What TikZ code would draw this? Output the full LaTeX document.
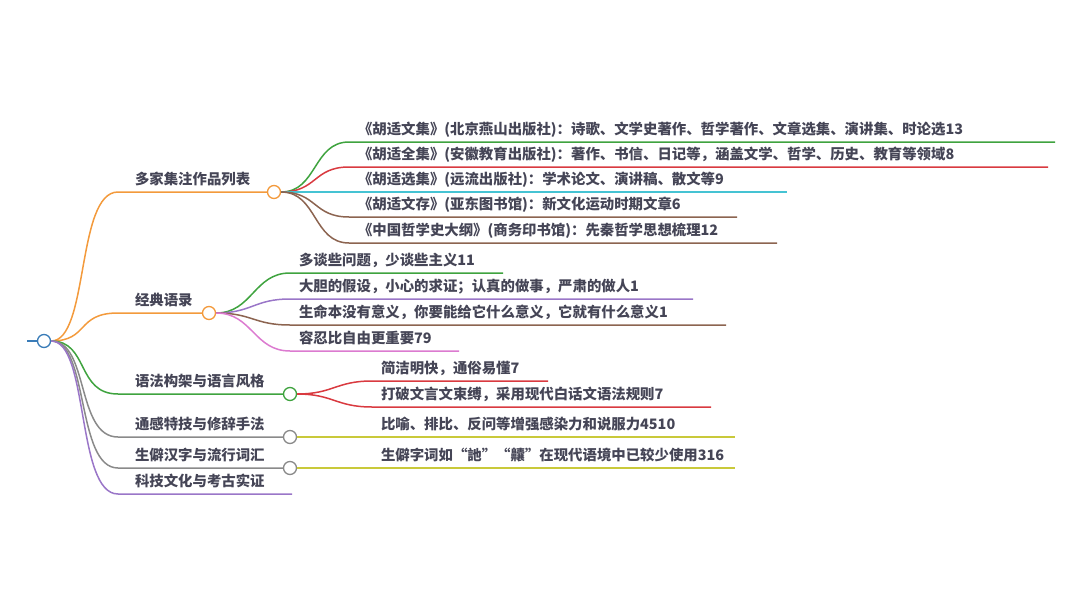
\documentclass[tikz,border=0pt]{standalone}
\usepackage{fontspec}
\setmainfont{Noto Sans CJK SC}
\usetikzlibrary{positioning}
\definecolor{mapblue}{HTML}{3A7CB8}
\definecolor{maporange}{HTML}{F39A3C}
\definecolor{mapgreen}{HTML}{3FA33F}
\definecolor{mapred}{HTML}{D93A40}
\definecolor{mapcyan}{HTML}{45C3D3}
\definecolor{mapbrown}{HTML}{8C6450}
\definecolor{mappurple}{HTML}{9A76C8}
\definecolor{mappink}{HTML}{DC7BD0}
\definecolor{mapgray}{HTML}{8A8A8A}
\definecolor{mapolive}{HTML}{C9C93A}
\definecolor{maptext}{HTML}{454556}

\begin{document}
\begin{tikzpicture}[
    x=1pt, y=-1pt,
    topic/.style={anchor=south west, font=\fontsize{14.4}{16}\selectfont\bfseries,
        text=maptext, inner xsep=17pt, inner ysep=5pt, text depth=2.5pt, outer sep=0pt},
    leaf/.style={topic, inner xsep=9pt},
    knot/.style={circle, draw=#1, fill=white, line width=1.3pt, minimum size=13pt,
        inner sep=0pt},
    twig/.style={draw=#1, line width=1.5pt}
]
    \useasboundingbox (0,0) rectangle (1080,616);

    % root
    \node[knot=mapblue] (hu) at (44,341) {};
    \coordinate (stub) at (27,341);
    \draw[twig=mapblue] (stub) -- (hu);

    % first level: labels, knots
    \node[topic] (l1) at (118,192) {多家集注作品列表};
    \node[topic] (l2) at (118,313) {经典语录};
    \node[topic] (l3) at (118,394) {语法构架与语言风格};
    \node[topic] (l4) at (118,437) {通感特技与修辞手法};
    \node[topic] (l5) at (118,468) {生僻汉字与流行词汇};
    \node[topic] (l6) at (118,494) {科技文化与考古实证};
    \node[knot=maporange] (c1) at (274,192) {};
    \node[knot=maporange] (c2) at (209,313) {};
    \node[knot=mapgreen] (c3) at (290,394) {};
    \node[knot=mapgray] (c4) at (290,437) {};
    \node[knot=mapgray] (c5) at (290,468) {};
    \coordinate (c6) at (292,494);

    \foreach \n/\m/\col in {l1/c1/maporange, l2/c2/maporange, l3/c3/mapgreen,
                            l4/c4/mapgray, l5/c5/mapgray, l6/c6/mappurple}
        \draw[twig=\col] (hu.east) .. controls +(38,0) and +(-42,0) .. (\n.south west) -- (\m);

    % editions
    \foreach \n/\y/\e/\col/\txt in {
        a1/142/1055/mapgreen/{《胡适文集》(北京燕山出版社)：诗歌、文学史著作、哲学著作、文章选集、演讲集、时论选13},
        a2/167/1048/mapred/{《胡适全集》(安徽教育出版社)：著作、书信、日记等，涵盖文学、哲学、历史、教育等领域8},
        a3/192/787/mapcyan/{《胡适选集》(远流出版社)：学术论文、演讲稿、散文等9},
        a4/217/737/mapbrown/{《胡适文存》(亚东图书馆)：新文化运动时期文章6},
        a5/243/777/mapbrown/{《中国哲学史大纲》(商务印书馆)：先秦哲学思想梳理12}} {
        \node[leaf] (\n) at (349,\y) {\txt};
        \coordinate (e\n) at (\e,\y);
        \draw[twig=\col] (c1.east) .. controls +(36,0) and +(-36,0) .. (\n.south west) -- (e\n);
    }

    % quotations
    \foreach \n/\y/\e/\col/\txt in {
        b1/273/503/mapgreen/{多谈些问题，少谈些主义11},
        b2/299/693/mappurple/{大胆的假设，小心的求证；认真的做事，严肃的做人1},
        b3/325/726/mapbrown/{生命本没有意义，你要能给它什么意义，它就有什么意义1},
        b4/351/459/mappink/{容忍比自由更重要79}} {
        \node[leaf] (\n) at (290,\y) {\txt};
        \coordinate (e\n) at (\e,\y);
        \draw[twig=\col] (c2.east) .. controls +(36,0) and +(-36,0) .. (\n.south west) -- (e\n);
    }

    % grammar and style
    \foreach \n/\y/\e/\txt in {
        d1/381/548/{简洁明快，通俗易懂7},
        d2/407/711/{打破文言文束缚，采用现代白话文语法规则7}} {
        \node[leaf] (\n) at (372,\y) {\txt};
        \coordinate (e\n) at (\e,\y);
        \draw[twig=mapred] (c3.east) .. controls +(36,0) and +(-36,0) .. (\n.south west) -- (e\n);
    }

    % single leaves
    \node[leaf] (f1) at (372,437) {比喻、排比、反问等增强感染力和说服力4510};
    \node[leaf] (g1) at (372,468) {生僻字词如“訑”“齉”在现代语境中已较少使用316};
    \coordinate (ef1) at (735,437);
    \coordinate (eg1) at (735,468);
    \draw[twig=mapolive] (c4.east) -- (f1.south west) -- (ef1);
    \draw[twig=mapolive] (c5.east) -- (g1.south west) -- (eg1);
\end{tikzpicture}
\end{document}
